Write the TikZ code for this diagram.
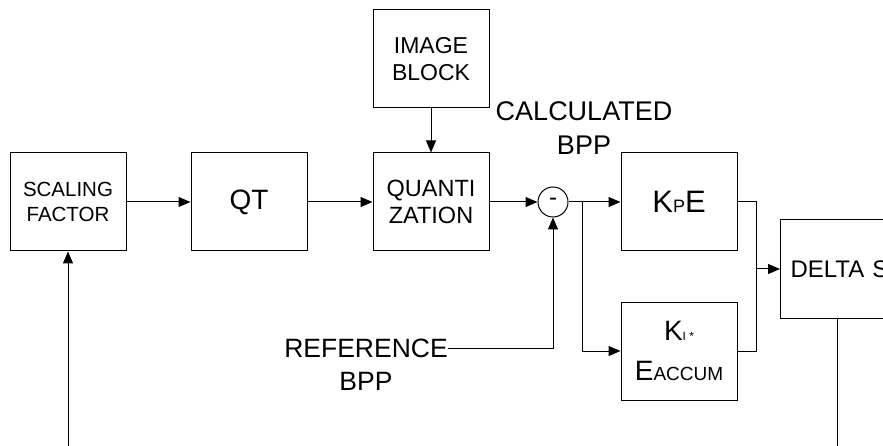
\documentclass[tikz,border=0pt]{standalone}
\usepackage{fontspec}
\setmainfont{Liberation Sans}
\usetikzlibrary{arrows.meta,positioning}

\newcommand{\fsz}[2]{\fontsize{#1}{#2}\selectfont}

\begin{document}
\begin{tikzpicture}[
    x=1pt, y=-1pt,
    node distance=50pt,
    block/.style={rectangle, draw, line width=1pt, minimum width=116pt, minimum height=98pt, align=center, inner sep=2pt},
    sumnode/.style={circle, draw, line width=1pt, minimum size=30pt, inner sep=0pt},
    txt/.style={inner sep=0pt, align=center},
    wire/.style={line width=1pt},
    arrow/.style={wire, -{Triangle[length=12pt,width=10pt]}}
]
    \useasboundingbox (0,0) rectangle (883,446);
    \clip (0,0) rectangle (883,446);

    \node [block, font=\fsz{20.5}{25}] (scale) at (68,202) {SCALING\\FACTOR};
    \node [block, font=\fsz{28}{30}, right=64pt of scale] (qt) {QT};
    \node [block, font=\fsz{23.5}{27}, right=65pt of qt] (quant) {QUANTI\\ZATION};
    \node [block, font=\fsz{23}{27}, above=44pt of quant] (image) {IMAGE\\BLOCK};
    \node [sumnode, font=\fsz{24}{24}, right=48pt of quant] (diff) {-};
    \coordinate [right=14pt of diff] (jn);
    \node [block, font=\fsz{31}{31}, right=52pt of diff] (kp) {K{\fsz{18}{18}P}E};
    \node [block, font=\fsz{28}{40}, below=50pt of kp] (ki) {K{\fsz{12}{12}I *}\\E{\fsz{19}{19}ACCUM}};
    \node [block, anchor=west, minimum width=170pt, text width=150pt, align=left, font=\fsz{24}{24}] (delta) at (780,269) {DELTA S};
    \coordinate [left=24pt of delta] (mrg);

    \node [txt, font=\fsz{27}{34}] (calc) at (584,128) {CALCULATED\\BPP};
    \node [txt, font=\fsz{26.5}{26.5}] (reftxt) at (366,348) {REFERENCE};
    \node [txt, font=\fsz{26.5}{26.5}, below=14pt of reftxt] (refbpp) {BPP};
    \coordinate (bot) at (0,446);

    \draw [arrow] (scale) -- (qt);
    \draw [arrow] (qt) -- (quant);
    \draw [arrow] (image) -- (quant);
    \draw [arrow] (quant) -- (diff);
    \draw [arrow] (diff) -- (kp);
    \draw [arrow] (jn) |- (ki);
    \draw [arrow] (reftxt) -| (diff);
    \draw [wire] (kp) -| (mrg) |- (ki);
    \draw [arrow] (mrg) -- (delta);
    \draw [wire] ([xshift=57pt]delta.south west) -- ([xshift=57pt]delta.south west |- bot);
    \draw [arrow] (scale.south |- bot) -- (scale);
\end{tikzpicture}
\end{document}
